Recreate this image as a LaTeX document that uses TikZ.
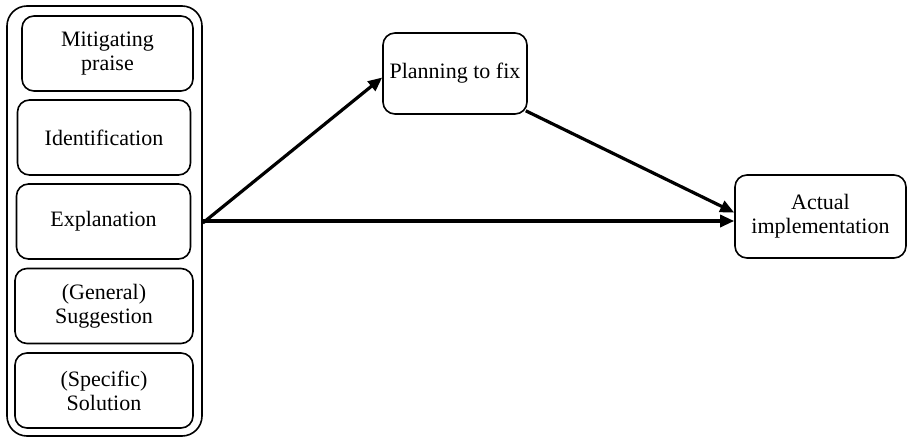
\documentclass[tikz,border=0pt]{standalone}
\usepackage{fontspec}
\setmainfont{Liberation Serif}
\usetikzlibrary{arrows.meta}
\begin{document}
\begin{tikzpicture}[x=1pt, y=-1pt,
		box/.style={draw, line width=1.6pt, rounded corners=12pt, align=center, inner sep=0pt,
			font=\fontsize{22}{24}\selectfont},
		link/.style={-{Triangle[length=14pt, width=12pt]}, line width=3.2pt}]
		\useasboundingbox (0, 0) rectangle (911, 439);

		\node [draw, line width=1.6pt, rounded corners=20pt, minimum width=195pt, minimum height=430pt] (group) at (104.5, 221) {};

		\node [box, minimum width=171pt, minimum height=75pt] (praise) at (107.5, 53.5) {Mitigating\\praise};
		\node [box, minimum width=173pt, minimum height=75pt] (ident) at (104, 137.5) {Identification};
		\node [box, minimum width=174pt, minimum height=75pt] (expl) at (103.5, 221.5) {Explanation};
		\node [box, minimum width=178pt, minimum height=75pt] (sugg) at (104, 306) {(General)\\Suggestion};
		\node [box, minimum width=178pt, minimum height=75pt] (sol) at (104, 390.5) {(Specific)\\Solution};

		\node [box, minimum width=144pt, minimum height=81pt] (plan) at (455, 73.5) {Planning to fix};
		\node [box, minimum width=171pt, minimum height=83pt] (act) at (820.5, 216.5) {Actual\\implementation};

		\draw [link] ([yshift=-2pt]group.east) to ([yshift=-4pt]plan.west);
		\draw [link] (group.east) to (group.east -| act.west);
		\draw [link] ([xshift=-2pt, yshift=4pt]plan.south east) to ([yshift=4pt]act.west);
	\end{tikzpicture}
\end{document}
